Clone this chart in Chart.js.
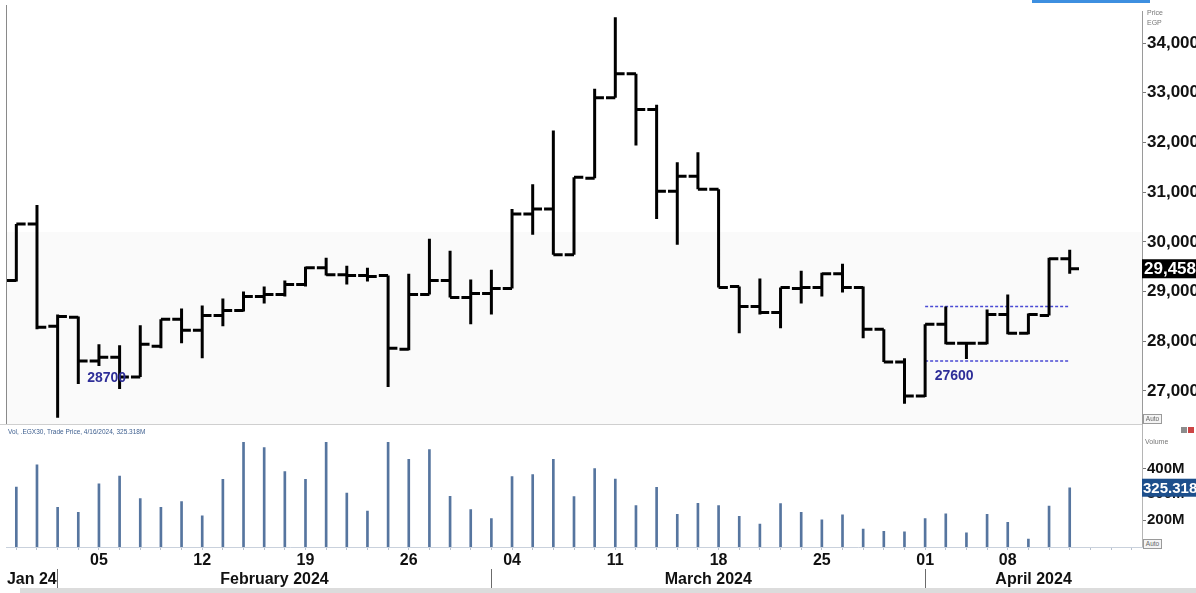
<!DOCTYPE html>
<html><head><meta charset="utf-8">
<script src="https://cdn.jsdelivr.net/npm/chart.js@4.4.1/dist/chart.umd.min.js"></script>
<style>
html,body{margin:0;padding:0;background:#fff;overflow:hidden}
#wrap{position:relative;width:1196px;height:593px;background:#fff}
canvas{position:absolute;left:0;top:0}
.t{position:absolute;font-family:"Liberation Sans",Arial,sans-serif;white-space:nowrap;line-height:1}
.box{position:absolute;border:1px solid #9a9a9a;background:#f4f4f4;font-family:"Liberation Sans",Arial,sans-serif;font-size:6.5px;color:#666;line-height:8px;text-align:center}
</style></head><body>
<div id="wrap">
<div style="position:absolute;left:7px;top:232px;width:1135px;height:192px;background:#fafafa"></div>
<canvas id="c" width="1196" height="593"></canvas>
<div style="position:absolute;left:1032px;top:0;width:118px;height:3px;background:#3d8fe0"></div>
<div style="position:absolute;left:6px;top:5px;width:1px;height:420px;background:#8a8a8a"></div>
<div style="position:absolute;left:0;top:424px;width:1142px;height:1px;background:#cfcfcf"></div>
<div style="position:absolute;left:20px;top:588px;width:1176px;height:5px;background:#dcdcdc"></div>
<div class="t" style="left:1147px;top:9px;font-size:7px;color:#777">Price</div>
<div class="t" style="left:1147px;top:19px;font-size:7px;color:#777">EGP</div>
<div class="box" style="left:1143px;top:414px;width:17px;height:8px">Auto</div>
<div class="t" style="left:8px;top:429px;font-size:6.5px;color:#3e5f8f">Vol, .EGX30, Trade Price, 4/16/2024, 325.318M</div>
<div class="t" style="left:1145px;top:438px;font-size:7px;color:#777">Volume</div>
<div style="position:absolute;left:1181px;top:427px;width:6px;height:6px;background:#8c8c8c"></div>
<div style="position:absolute;left:1188px;top:427px;width:6px;height:6px;background:#c44"></div>
<div class="box" style="left:1143px;top:539px;width:17px;height:8px">Auto</div>
</div>
<script>
// ---- data ----
const openP  = [29220,30360,28300,28480,27600,27680,27280,27900,28440,28220,28520,28620,28900,28940,29140,29480,29340,29320,29320,27840,28940,29220,28880,28960,29060,30560,30660,29740,31280,32900,33380,32660,31020,31320,31060,29100,28700,28580,29060,29080,29360,29080,28240,27580,26900,28340,27960,27960,28540,28160,28520,29660];
const highP  = [30360,30740,28540,28500,27940,27920,28320,28440,28660,28720,28860,29000,29100,29220,29500,29680,29520,29480,29320,29360,30060,29820,29240,29440,30660,31160,32240,31300,33080,34520,33380,32760,31600,31800,31060,29100,29260,29080,29420,29380,29560,29100,28240,27660,28340,28700,27980,28640,28940,28560,29680,29840];
const lowP   = [29200,28240,26460,27140,27500,27040,27280,27860,27960,27660,28300,28600,28760,28900,29100,29320,29140,29200,27080,27820,28940,28880,28340,28540,29060,30140,29740,29740,31280,32900,31940,30460,29940,31060,29080,28160,28540,28260,28760,28900,28980,28060,27580,26740,26880,27940,27640,27940,28140,28140,28520,29360];
const closeP = [30360,28280,28500,27600,27680,27280,27940,28440,28220,28520,28620,28900,28940,29140,29480,29340,29320,29300,27860,28940,29220,28880,28960,29060,30560,30660,29740,31300,32900,33380,32660,31020,31320,31060,29080,28700,28580,29080,29080,29360,29080,28240,27580,26900,28340,27960,27960,28540,28160,28540,29660,29458];
const volumeM = [328,414,249,230,340,370,283,249,272,217,358,501,481,388,358,501,305,235,501,435,473,292,241,206,368,376,435,291,399,359,256,327,222,265,256,215,185,264,230,201,220,165,157,155,206,224,151,222,191,127,254,325.318];
const slotCount = 55;                       // 52 sessions + 3 empty future slots
const priceTicks = [27000,28000,29000,30000,31000,32000,33000,34000];
const volumeTicks = [200,300,400];
const dayTickIdx = [4,9,14,19,24,29,34,39,44,48];
const dayTickLabels = ['05','12','19','26','04','11','18','25','01','08'];
const monthLabels = ['Jan 24','February 2024','March 2024','April 2024'];
const monthStartIdx = [-0.5,2,23,44];
const levelValues = [28700,27600];
const levelFromIdx = 44, levelToIdx = 51;
const noteTexts = ['28700','27600'];
const noteIdx = [3.43,44.46];
const noteValues = [27260,27300];
const lastPrice = 29458, lastPriceText = '29,458';
const lastVolume = 325.318, lastVolumeText = '325.318';

// ---- derived structures ----
const slotIdx = Array.from({length:slotCount},(_,i)=>i);
const xMin = -0.5, xMax = slotCount - 0.5;
const monthEnd = monthStartIdx.slice(1).concat([xMax]);
const monthCenters = monthStartIdx.map((s,i)=>(s+monthEnd[i])/2);
const separators = monthStartIdx.slice(1);
const x2Values = monthCenters.concat(separators).sort((a,b)=>a-b);

const ohlcPts = [];
openP.forEach((o,i)=>{
  ohlcPts.push({x:i-0.45,y:o},{x:i,y:o},{x:i,y:null},
               {x:i,y:lowP[i]},{x:i,y:highP[i]},{x:i,y:null},
               {x:i,y:closeP[i]},{x:i+0.45,y:closeP[i]},{x:i,y:null});
});
const levelSets = levelValues.map(v=>({
  type:'line', data:[{x:levelFromIdx,y:v},{x:levelToIdx,y:v}], xAxisID:'x', yAxisID:'y',
  borderColor:'#4a4ad4', borderWidth:1.5, borderDash:[3,2], pointRadius:0, fill:false
}));

const FONT = '"Liberation Sans", Arial, sans-serif';

const marks = {
  id:'marks',
  afterDatasetsDraw(chart){
    const {ctx, scales:{x,y}} = chart;
    ctx.save();
    ctx.font = 'bold 14px ' + FONT;
    ctx.fillStyle = '#2e2e98';
    ctx.textAlign = 'left'; ctx.textBaseline = 'middle';
    noteTexts.forEach((t,i)=>ctx.fillText(t, x.getPixelForValue(noteIdx[i]), y.getPixelForValue(noteValues[i])));
    ctx.restore();
  },
  afterDraw(chart){
    const {ctx, scales:{y,yv}} = chart;
    ctx.save();
    let py = y.getPixelForValue(lastPrice);
    ctx.fillStyle = '#000';
    ctx.fillRect(y.left, py-9.5, 1196-y.left, 19);
    ctx.fillStyle = '#fff'; ctx.font = 'bold 17px ' + FONT;
    ctx.textAlign='left'; ctx.textBaseline='middle';
    ctx.fillText(lastPriceText, y.left+2, py+1);
    let vy = yv.getPixelForValue(lastVolume);
    ctx.fillStyle = '#1d4f8c';
    ctx.fillRect(yv.left, vy-9, 1196-yv.left, 18);
    ctx.fillStyle = '#fff'; ctx.font = 'bold 15px ' + FONT;
    ctx.fillText(lastVolumeText, yv.left+1, vy+1);
    ctx.restore();
  }
};

new Chart(document.getElementById('c'), {
  data:{
    datasets:[
      {type:'line', data:ohlcPts, xAxisID:'x', yAxisID:'y', borderColor:'#000', borderWidth:3,
       pointRadius:0, spanGaps:false, tension:0, borderCapStyle:'butt', fill:false},
      ...levelSets,
      {type:'bar', data:volumeM.map((v,i)=>({x:i,y:v})), xAxisID:'x', yAxisID:'yv',
       barThickness:2, backgroundColor:'#56759f', borderWidth:0}
    ]
  },
  options:{
    responsive:false, animation:false, devicePixelRatio:1,
    layout:{padding:{left:6, top:8, right:0, bottom:0}},
    plugins:{legend:{display:false}, tooltip:{enabled:false}},
    scales:{
      y:{type:'linear', position:'right', stack:'panes', stackWeight:416, min:26320, max:34640,
         afterBuildTicks:s=>{s.ticks = priceTicks.map(v=>({value:v}));},
         afterFit:s=>{s.width = 54;},
         ticks:{padding:1, color:'#111', font:{family:FONT, size:17, weight:'bold'},
                callback:v=>v.toLocaleString('en-US')},
         grid:{drawOnChartArea:false, tickLength:4, color:'#777'},
         border:{display:true, color:'#9a9a9a'}},
      yv:{type:'linear', position:'right', stack:'panes', stackWeight:123, min:96, max:569,
         afterBuildTicks:s=>{s.ticks = volumeTicks.map(v=>({value:v}));},
         afterFit:s=>{s.width = 54;},
         ticks:{padding:1, color:'#111', font:{family:FONT, size:15, weight:'bold'},
                callback:v=>v+'M'},
         grid:{drawOnChartArea:false, tickLength:4, color:'#777'},
         border:{display:true, color:'#b5b5b5'}},
      x:{type:'linear', position:'bottom', min:xMin, max:xMax, offset:false,
         afterBuildTicks:s=>{s.ticks = slotIdx.map(v=>({value:v}));},
         afterFit:s=>{s.height = 22;},
         ticks:{autoSkip:false, maxRotation:0, minRotation:0, padding:1, color:'#111',
                font:{family:FONT, size:16, weight:'bold'},
                callback:v=>{const k = dayTickIdx.indexOf(v); return k>=0 ? dayTickLabels[k] : '';}},
         grid:{drawOnChartArea:false, offset:false, tickLength:3, color:'#b9c2cf'},
         border:{display:true, color:'#c9d1dc'}},
      x2:{type:'linear', position:'bottom', min:xMin, max:xMax, offset:false,
         afterBuildTicks:s=>{s.ticks = x2Values.map(v=>({value:v}));},
         afterFit:s=>{s.height = 24;},
         ticks:{autoSkip:false, maxRotation:0, minRotation:0, padding:-21, color:'#111',
                font:{family:FONT, size:16, weight:'bold'},
                callback:v=>{const k = monthCenters.indexOf(v); return k>=0 ? monthLabels[k] : '';}},
         grid:{drawOnChartArea:false, offset:false, tickLength:22, lineWidth:1,
               color:c=>(c.tick && separators.includes(c.tick.value)) ? '#6b6b6b' : 'rgba(0,0,0,0)'},
         border:{display:false}}
    }
  },
  plugins:[marks]
});
</script>
</body></html>
